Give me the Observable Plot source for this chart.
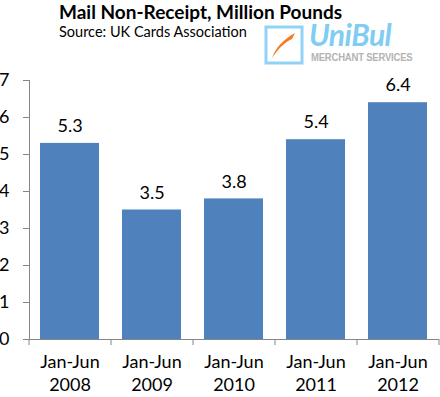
<!DOCTYPE html>
<html>
<head>
<meta charset="utf-8">
<script src="https://cdn.jsdelivr.net/npm/d3@7"></script>
<script src="https://cdn.jsdelivr.net/npm/@observablehq/plot@0.6"></script>
<style>
  html, body { margin: 0; padding: 0; background: #fff; }
  #wrap { position: relative; width: 440px; height: 397px; overflow: hidden; font-family: Lato, "Open Sans", sans-serif; }
  #chart { position: absolute; left: 0; top: 0; }
  .title { position: absolute; left: 59px; top: 1px; font-size: 19px; line-height: 21px; font-weight: bold; color: #000; white-space: nowrap; }
  .subtitle { position: absolute; left: 59px; top: 23px; font-size: 14.5px; line-height: 17.5px; color: #000; white-space: nowrap; }
  .logo { position: absolute; left: 264px; top: 25px; }
  .uni { position: absolute; left: 309px; top: 16px; font-size: 30px; font-weight: bold; font-style: italic; color: #7fcdf2; white-space: nowrap; letter-spacing: -0.5px; }
  .merch { position: absolute; left: 311px; top: 51px; font-size: 11px; font-weight: bold; color: #b3b3b3; white-space: nowrap; letter-spacing: -0.2px; font-family: "Liberation Sans", sans-serif; transform: scaleX(0.86); transform-origin: left; }
</style>
</head>
<body>
<div id="wrap">
  <div id="chart"></div>
  <div class="title">Mail Non-Receipt, Million Pounds</div>
  <div class="subtitle">Source: UK Cards Association</div>
  <svg class="logo" width="42" height="42" viewBox="0 0 42 42">
    <rect x="2" y="2" width="36" height="36" fill="#fff" stroke="#8fd4f6" stroke-width="3"/>
    <path d="M8 33 C 12 22, 20 14, 31 8 L 28 14 C 21 17, 14 24, 8 33 Z" fill="#f37c1f"/>
  </svg>
  <div class="uni">UniBul</div>
  <div class="merch">MERCHANT SERVICES</div>
</div>
<script>
const periodPrefix = "Jan-Jun";
const years = ["2008", "2009", "2010", "2011", "2012"];
const values = [5.3, 3.5, 3.8, 5.4, 6.4];
const yTicks = [0, 1, 2, 3, 4, 5, 6, 7];

const data = years.map((y, i) => ({year: y, value: values[i]}));

const W = 440, H = 397, ML = 29, MR = 1;
const step = (W - ML - MR) / years.length;
const axisColor = "#868686";

const chart = Plot.plot({
  width: W,
  height: H,
  marginTop: 80,
  marginBottom: 58,
  marginLeft: ML,
  marginRight: MR,
  style: {fontFamily: "Lato, 'Open Sans', sans-serif", background: "transparent", color: "#000"},
  x: {domain: years, paddingInner: 0.28, paddingOuter: 0.14, label: null},
  y: {domain: [0, 7], label: null},
  marks: [
    Plot.barY(data, {x: "year", y: "value", fill: "#4f81bd"}),
    Plot.text(data, {x: "year", y: "value", text: d => d.value.toFixed(1), dy: -17, fontSize: 18, fill: "#000"}),
    Plot.ruleY([0], {stroke: axisColor, insetLeft: -6}),
    Plot.frame({anchor: "left", stroke: axisColor}),
    Plot.ruleX(years, {x: d => d, dx: -step / 2, y1: 0, y2: 0, insetBottom: -6, stroke: axisColor}),
    Plot.ruleX(years.slice(-1), {x: d => d, dx: step / 2, y1: 0, y2: 0, insetBottom: -6, stroke: axisColor}),
    Plot.axisY(yTicks, {tickSize: 6, tickPadding: 14, stroke: axisColor, fontSize: 18, fill: "#000", label: null}),
    Plot.axisX({tickSize: 0, tickPadding: 12, fontSize: 18, fill: "#000", lineHeight: 1.28, tickFormat: d => periodPrefix + "\n" + d, label: null})
  ]
});
document.getElementById("chart").append(chart);
</script>
</body>
</html>
